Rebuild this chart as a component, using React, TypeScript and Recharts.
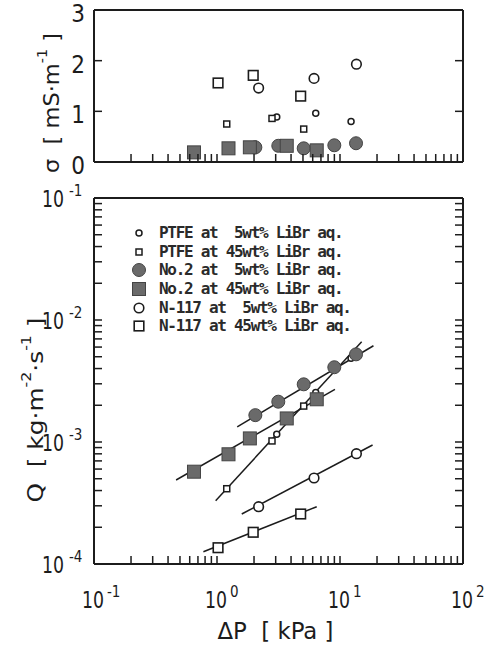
import React from 'react';
import { ScatterChart, Scatter, XAxis, YAxis } from 'recharts';

const INK = '#1c1c1c';
const GREY = '#6a6a6a';
const NARROW = "'Liberation Sans Narrow', 'DejaVu Sans Condensed', 'Liberation Sans', sans-serif";
const MONO = "'DejaVu Sans Mono', 'Liberation Mono', monospace";

// ΔP [kPa], Q [kg m-2 s-1], σ [mS m-1]
const ptfe5DP = [3.06, 6.35, 12.3];
const ptfe5Q = [1.16e-3, 2.54e-3, 4.85e-3];
const ptfe5Sigma = [0.89, 0.96, 0.8];

const ptfe45DP = [1.2, 2.8, 5.07];
const ptfe45Q = [4.14e-4, 1.02e-3, 1.97e-3];
const ptfe45Sigma = [0.75, 0.86, 0.65];

const no2w5DP = [2.05, 3.15, 5.07, 8.99, 13.5];
const no2w5Q = [1.66e-3, 2.14e-3, 2.97e-3, 4.1e-3, 5.23e-3];
const no2w5Sigma = [0.29, 0.32, 0.27, 0.33, 0.37];

const no2w45DP = [0.65, 1.24, 1.85, 3.69, 6.47];
const no2w45Q = [5.71e-4, 7.93e-4, 1.07e-3, 1.56e-3, 2.24e-3];
const no2w45Sigma = [0.19, 0.27, 0.29, 0.32, 0.23];

const n117w5DP = [2.18, 6.15, 13.6];
const n117w5Q = [2.95e-4, 5.07e-4, 8.02e-4];
const n117w5Sigma = [1.46, 1.65, 1.93];

const n117w45DP = [1.02, 1.97, 4.79];
const n117w45Q = [1.36e-4, 1.82e-4, 2.57e-4];
const n117w45Sigma = [1.56, 1.71, 1.3];

// fitted lines (end points)
const ptfeFitDP = [0.975, 15.0];
const ptfeFitQ = [3.3e-4, 6.64e-3];
const no2w5FitDP = [1.46, 18.7];
const no2w5FitQ = [1.33e-3, 6.15e-3];
const no2w45FitDP = [0.465, 9.1];
const no2w45FitQ = [4.88e-4, 2.7e-3];
const n117w5FitDP = [1.59, 18.4];
const n117w5FitQ = [2.57e-4, 9.45e-4];
const n117w45FitDP = [0.775, 6.47];
const n117w45FitQ = [1.26e-4, 2.95e-4];

const dpTicks = [
  0.1, 0.2, 0.3, 0.4, 0.5, 0.6, 0.7, 0.8, 0.9,
  1, 2, 3, 4, 5, 6, 7, 8, 9,
  10, 20, 30, 40, 50, 60, 70, 80, 90, 100,
];
const qTicks = [
  1e-4, 2e-4, 3e-4, 4e-4, 5e-4, 6e-4, 7e-4, 8e-4, 9e-4,
  1e-3, 2e-3, 3e-3, 4e-3, 5e-3, 6e-3, 7e-3, 8e-3, 9e-3,
  1e-2, 2e-2, 3e-2, 4e-2, 5e-2, 6e-2, 7e-2, 8e-2, 9e-2, 1e-1,
];
const sigmaTicks = [0, 1, 2, 3];

const legendLabels = [
  'PTFE at  5wt% LiBr aq.',
  'PTFE at 45wt% LiBr aq.',
  'No.2 at  5wt% LiBr aq.',
  'No.2 at 45wt% LiBr aq.',
  'N-117 at  5wt% LiBr aq.',
  'N-117 at 45wt% LiBr aq.',
];

const pts = (xs: number[], ys: number[]) => xs.map((x, i) => ({ x, y: ys[i] }));

const isDecade = (v: number) => Math.abs(Math.log10(v) - Math.round(Math.log10(v))) < 1e-6;

const TL = 8; // inward tick length

// marker shapes
const SmallCircle = ({ cx, cy }: any) => (
  <circle cx={cx} cy={cy} r={3} fill="#fff" stroke={INK} strokeWidth={1.5} />
);
const SmallSquare = ({ cx, cy }: any) => (
  <rect x={cx - 3} y={cy - 3} width={6} height={6} fill="#fff" stroke={INK} strokeWidth={1.5} />
);
const BigDisc = ({ cx, cy }: any) => (
  <circle cx={cx} cy={cy} r={6.5} fill={GREY} stroke="#444" strokeWidth={1} />
);
const BigBlock = ({ cx, cy }: any) => (
  <rect x={cx - 6.5} y={cy - 6.5} width={13} height={13} fill={GREY} stroke="#444" strokeWidth={1} />
);
const OpenCircle = ({ cx, cy }: any) => (
  <circle cx={cx} cy={cy} r={4.8} fill="#fff" stroke={INK} strokeWidth={1.6} />
);
const OpenSquare = ({ cx, cy }: any) => (
  <rect x={cx - 4.8} y={cy - 4.8} width={9.6} height={9.6} fill="#fff" stroke={INK} strokeWidth={1.6} />
);
const NoDot = () => <g />;

const markers = [SmallCircle, SmallSquare, BigDisc, BigBlock, OpenCircle, OpenSquare];

// tick renderers (ticks point inwards, labels outside)
const bottomTick = (withLabel: boolean) => (p: any) => {
  const { x, y, payload } = p;
  const v = payload.value;
  return (
    <g>
      <line x1={x} x2={x} y1={y} y2={y - TL} stroke={INK} strokeWidth={1.5} />
      {withLabel && isDecade(v) && (
        <g fontFamily={NARROW} fill={INK}>
          <text x={x - 12} y={y + 44} fontSize={23} textLength={22} lengthAdjust="spacingAndGlyphs">
            10
          </text>
          <text x={x + 13} y={y + 33} fontSize={15} textAnchor="start">
            {Math.round(Math.log10(v))}
          </text>
        </g>
      )}
    </g>
  );
};

const topTick = (p: any) => {
  const { x, y } = p;
  return <line x1={x} x2={x} y1={y} y2={y + TL} stroke={INK} strokeWidth={1.5} />;
};

const rightTick = (p: any) => {
  const { x, y } = p;
  return <line x1={x} x2={x - TL} y1={y} y2={y} stroke={INK} strokeWidth={1.5} />;
};

const qLeftTick = (p: any) => {
  const { x, y, payload } = p;
  const v = payload.value;
  return (
    <g>
      <line x1={x} x2={x + TL} y1={y} y2={y} stroke={INK} strokeWidth={1.5} />
      {isDecade(v) && (
        <g fontFamily={NARROW} fill={INK}>
          <text x={x - 52} y={y + 9} fontSize={23} textLength={22} lengthAdjust="spacingAndGlyphs">
            10
          </text>
          <text x={x - 25} y={y - 2} fontSize={15} textAnchor="start">
            {Math.round(Math.log10(v))}
          </text>
        </g>
      )}
    </g>
  );
};

const sigmaLeftTick = (p: any) => {
  const { x, y, payload } = p;
  return (
    <g>
      <line x1={x} x2={x + TL} y1={y} y2={y} stroke={INK} strokeWidth={1.5} />
      <text x={x - 9} y={y + 12} fontSize={24} textAnchor="end" fontFamily={NARROW} fill={INK}>
        {payload.value}
      </text>
    </g>
  );
};

const frame = { stroke: INK, strokeWidth: 2 };

const SigmaTitle = (p: any) => {
  const vb = p.viewBox || { x: 0, y: 10, width: 94, height: 152 };
  const cx = vb.x + vb.width - 43;
  const cy = vb.y + vb.height / 2 + 17;
  return (
    <text
      x={cx}
      y={cy}
      transform={`rotate(-90 ${cx} ${cy})`}
      textAnchor="middle"
      dominantBaseline="central"
      fontFamily={NARROW}
      fontSize={22}
      fill={INK}
      textLength={140}
      lengthAdjust="spacingAndGlyphs"
      style={{ whiteSpace: 'pre' }}
    >
      σ  [ mS·m<tspan dy={-9} fontSize={14}>-1</tspan>
      <tspan dy={9}> ]</tspan>
    </text>
  );
};

const QTitle = (p: any) => {
  const vb = p.viewBox || { x: 0, y: 18, width: 94, height: 366 };
  const cx = vb.x + vb.width - 59;
  const cy = vb.y + vb.height / 2 + 29;
  return (
    <text
      x={cx}
      y={cy}
      transform={`rotate(-90 ${cx} ${cy})`}
      textAnchor="middle"
      dominantBaseline="central"
      fontFamily={NARROW}
      fontSize={22}
      fill={INK}
      textLength={185}
      lengthAdjust="spacingAndGlyphs"
      style={{ whiteSpace: 'pre' }}
    >
      Q  [ kg·m<tspan dy={-9} fontSize={14}>-2</tspan>
      <tspan dy={9}>·s</tspan>
      <tspan dy={-9} fontSize={14}>-1</tspan>
      <tspan dy={9}> ]</tspan>
    </text>
  );
};

const DPTitle = (p: any) => {
  const vb = p.viewBox || { x: 94, y: 384, width: 369 };
  return (
    <text
      x={vb.x + vb.width / 2 - 3}
      y={vb.y + 75}
      textAnchor="middle"
      fontFamily={NARROW}
      fontSize={23}
      fill={INK}
      textLength={116}
      lengthAdjust="spacingAndGlyphs"
      style={{ whiteSpace: 'pre' }}
    >
      ΔP  [ kPa ]
    </text>
  );
};

const sigmaSeries = [
  pts(ptfe5DP, ptfe5Sigma),
  pts(ptfe45DP, ptfe45Sigma),
  pts(no2w5DP, no2w5Sigma),
  pts(no2w45DP, no2w45Sigma),
  pts(n117w5DP, n117w5Sigma),
  pts(n117w45DP, n117w45Sigma),
];

const qSeries = [
  pts(ptfe5DP, ptfe5Q),
  pts(ptfe45DP, ptfe45Q),
  pts(no2w5DP, no2w5Q),
  pts(no2w45DP, no2w45Q),
  pts(n117w5DP, n117w5Q),
  pts(n117w45DP, n117w45Q),
];

const fitSeries = [
  pts(ptfeFitDP, ptfeFitQ),
  pts(no2w5FitDP, no2w5FitQ),
  pts(no2w45FitDP, no2w45FitQ),
  pts(n117w5FitDP, n117w5FitQ),
  pts(n117w45FitDP, n117w45FitQ),
];

function Legend() {
  return (
    <div style={{ position: 'absolute', left: 129, top: 223.6 }}>
      {legendLabels.map((label, i) => {
        const M = markers[i];
        return (
          <div key={label} style={{ display: 'flex', alignItems: 'center', height: 18.7 }}>
            <svg width={20} height={18} style={{ marginRight: 10 }}>
              <M cx={10} cy={9} />
            </svg>
            <span
              style={{
                fontFamily: MONO,
                fontSize: 16,
                fontWeight: 'bold',
                letterSpacing: -1.3,
                whiteSpace: 'pre',
                color: '#2a2a2a',
                lineHeight: '18px',
              }}
            >
              {label}
            </span>
          </div>
        );
      })}
    </div>
  );
}

const xCommon = {
  type: 'number' as const,
  scale: 'log' as const,
  domain: [0.1, 100],
  ticks: dpTicks,
  interval: 0,
  tickSize: 0,
  tickMargin: 0,
  tickLine: false,
  axisLine: frame,
  allowDataOverflow: true,
};

export default function App() {
  return (
    <div style={{ position: 'absolute', left: 0, top: 0, width: 489, height: 647, background: '#fff' }}>
      <div style={{ position: 'absolute', left: 0, top: 0 }}>
        <ScatterChart width={489} height={180} margin={{ top: 0, right: 0, bottom: 0, left: 0 }}>
          <XAxis {...xCommon} dataKey="x" height={18} tick={bottomTick(false)} />
          <XAxis {...xCommon} xAxisId="top" orientation="top" height={10} tick={topTick} />
          <YAxis
            dataKey="y"
            type="number"
            domain={[0, 3]}
            ticks={sigmaTicks}
            interval={0}
            width={94}
            tickSize={0}
            tickMargin={0}
            tickLine={false}
            tick={sigmaLeftTick}
            axisLine={frame}
            label={{ content: SigmaTitle }}
            allowDataOverflow
          />
          <YAxis
            yAxisId="right"
            orientation="right"
            type="number"
            domain={[0, 3]}
            ticks={sigmaTicks}
            interval={0}
            width={26}
            tickSize={0}
            tickMargin={0}
            tickLine={false}
            tick={rightTick}
            axisLine={frame}
            allowDataOverflow
          />
          {sigmaSeries.map((d, i) => (
            <Scatter key={i} data={d} shape={markers[i]} isAnimationActive={false} />
          ))}
        </ScatterChart>
      </div>
      <div style={{ position: 'absolute', left: 0, top: 180 }}>
        <ScatterChart width={489} height={467} margin={{ top: 0, right: 0, bottom: 0, left: 0 }}>
          <XAxis
            {...xCommon}
            dataKey="x"
            height={83}
            tick={bottomTick(true)}
            label={{ content: DPTitle }}
          />
          <XAxis {...xCommon} xAxisId="top" orientation="top" height={18} tick={topTick} />
          <YAxis
            dataKey="y"
            type="number"
            scale="log"
            domain={[1e-4, 1e-1]}
            ticks={qTicks}
            interval={0}
            width={94}
            tickSize={0}
            tickMargin={0}
            tickLine={false}
            tick={qLeftTick}
            axisLine={frame}
            label={{ content: QTitle }}
            allowDataOverflow
          />
          <YAxis
            yAxisId="right"
            orientation="right"
            type="number"
            scale="log"
            domain={[1e-4, 1e-1]}
            ticks={qTicks}
            interval={0}
            width={26}
            tickSize={0}
            tickMargin={0}
            tickLine={false}
            tick={rightTick}
            axisLine={frame}
            allowDataOverflow
          />
          {fitSeries.map((d, i) => (
            <Scatter
              key={'fit' + i}
              data={d}
              line={{ stroke: INK, strokeWidth: 1.5 }}
              shape={NoDot}
              isAnimationActive={false}
            />
          ))}
          {qSeries.map((d, i) => (
            <Scatter key={i} data={d} shape={markers[i]} isAnimationActive={false} />
          ))}
        </ScatterChart>
      </div>
      <Legend />
    </div>
  );
}
